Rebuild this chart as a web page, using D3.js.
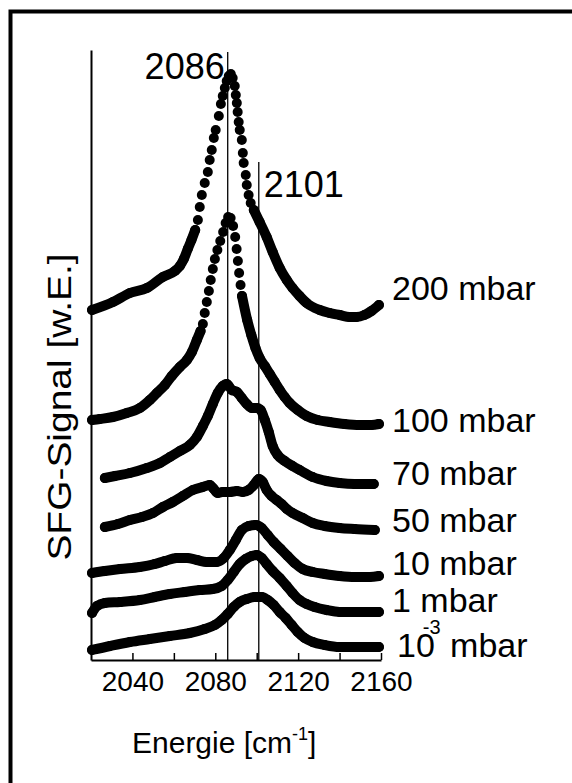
<!DOCTYPE html>
<html>
<head>
<meta charset="utf-8">
<script src="https://cdn.jsdelivr.net/npm/d3@7"></script>
<style>
  body { margin: 0; background: #fff; }
  svg text { font-family: "Liberation Sans", Arial, sans-serif; fill: #000; }
</style>
</head>
<body>
<svg width="572" height="783"></svg>
<script>
// SFG spectra, [wavenumber (cm^-1), signal (w.E.) incl. vertical offset]
// points closer than 1.7 cm^-1 are single measured dots, the rest is read along the dense trace
const p200 = [
  [2020.5,35.0],[2030.6,35.8],[2038.8,36.7],[2047,37.2],[2054.7,38.3],[2060.5,38.9],[2062.9,39.4],[2064.8,40.1],[2066.7,41.1],
  [2068.5,42.0],[2070.3,43.0],
  [2071.6,44.0],[2072.5,45.3],[2073.5,46.5],[2074.9,47.7],[2076.4,48.8],[2077.3,50.0],[2078.3,51.0],[2079.3,52.2],[2080.2,53.0],
  [2081.7,54.4],[2082.7,55.6],[2083.6,56.4],[2084.6,57.2],[2085.5,57.9],[2086.5,58.4],[2087.5,58.6],[2088.4,58.2],[2089.4,57.4],
  [2089.9,56.5],[2090.4,55.7],[2090.8,54.8],[2091.3,53.8],[2091.8,53.0],[2092.8,52.0],[2093.3,50.7],[2093.7,49.7],[2094.7,48.5],
  [2095.2,47.5],[2096.1,46.5],[2097.1,45.7],[2098.6,45.0],
  [2101.4,43.8],[2104.8,42.3],[2107.7,40.8],[2111.1,39.2],[2114.5,38.0],[2117.3,37.2],[2120.7,36.4],[2124.1,35.7],[2130.4,35.0],
  [2135.2,34.7],[2140,34.5],[2144.8,34.3],[2148.2,34.3],[2152,34.5],[2155.4,34.9],[2159,35.5]
];
const p100 = [
  [2020.5,24.0],[2024.3,24.1],[2030.6,24.3],[2037.3,24.7],[2043.6,25.2],[2048.4,26.0],[2051.8,26.7],[2055.7,27.5],[2059,28.4],
  [2062.9,29.3],[2066.3,30.0],[2068.7,30.8],[2071.1,32.0],
  [2072.9,32.9],[2074.0,33.6],[2074.9,34.7],[2075.9,35.8],[2076.9,36.9],[2077.8,38.0],[2078.8,39.1],[2079.8,40.1],[2081.0,41.0],
  [2082.4,41.9],[2083.8,42.8],[2085.0,43.7],[2086.2,44.3],[2087.4,44.2],[2088.6,43.4],[2089.6,42.3],[2090.3,41.1],[2090.9,39.9],
  [2091.5,38.7],[2092.2,37.5],[2092.9,36.4],
  [2095.4,34.0],[2097.4,32.5],[2099.4,31.2],[2101.4,30.2],[2103.9,29.4],[2106.3,28.6],[2108.7,27.8],[2111.1,27.0],[2113.5,26.3],
  [2115.9,25.7],[2119.8,25.0],[2124.1,24.4],[2129.4,24.0],[2135.2,23.8],[2142.4,23.6],[2149.6,23.5],[2155.4,23.5],[2159,23.6]
];
const p70 = [
  [2026.7,18.2],[2031.6,18.4],[2038.8,18.7],[2047,19.2],[2053.3,19.7],[2058.1,20.3],[2062.9,20.9],[2067.7,21.5],[2071.1,22.3],
  [2074,23.4],[2076.4,24.4],[2078.8,25.6],[2081.2,26.7],[2083.6,27.4],[2085.5,27.6],[2088,27.0],[2090.4,26.8],[2092.8,26.2],
  [2095.2,25.6],[2097.6,25.2],[2100,25.2],[2101.9,25.0],[2103.9,24.0],[2105.8,22.8],[2107.7,21.4],[2110.1,20.5],[2113.5,19.9],
  [2117.3,19.4],[2120.7,19.0],[2127,18.3],[2133.7,17.9],[2140,17.7],[2147.2,17.6],[2156.5,17.6]
];
const p50 = [
  [2026.7,13.3],[2033,13.6],[2038.8,14.0],[2044.6,14.3],[2049.9,14.7],[2054.7,15.3],[2059.5,15.8],[2064.3,16.4],[2069.2,17.0],
  [2074,17.3],[2077.3,17.5],[2079.3,17.1],[2081.2,16.7],[2083.6,16.8],[2087,16.8],[2090.4,16.9],[2093.3,16.8],[2096.1,17.0],
  [2098.6,17.5],[2101,18.1],[2102.9,17.8],[2104.8,17.0],[2107.2,16.4],[2109.6,16.0],[2112,15.6],[2114.5,15.1],[2117.3,14.7],
  [2122.2,14.2],[2127,13.7],[2132.8,13.4],[2140,13.2],[2147.2,13.1],[2157,13.0]
];
const p10 = [
  [2020.5,8.7],[2026.7,8.9],[2034,9.1],[2043.6,9.3],[2050.8,9.6],[2055.7,9.9],[2061.4,10.2],[2066.3,10.2],[2071.1,10.0],
  [2075.9,9.8],[2080.7,9.8],[2084.1,10.2],[2087,11.0],[2089.9,12.0],[2092.8,13.0],[2096.1,13.4],[2099.5,13.5],[2102.4,13.2],
  [2105.3,12.5],[2108.2,11.8],[2111.6,11.1],[2114.9,10.4],[2118.3,9.7],[2122.2,9.1],[2127,8.8],[2132.8,8.6],[2140,8.4],
  [2147.2,8.3],[2154.5,8.3],[2159,8.4]
];
const p1 = [
  [2020.5,4.7],[2022.9,5.4],[2026.7,5.7],[2034,5.8],[2043.6,6.0],[2050.8,6.3],[2058.1,6.6],[2065.3,6.8],[2072.5,7.0],
  [2078.8,7.1],[2083.1,7.4],[2086,8.0],[2088.9,8.8],[2091.8,9.6],[2094.7,10.1],[2097.6,10.4],[2100,10.5],[2102.4,10.2],
  [2104.8,9.6],[2107.7,8.9],[2111.1,8.2],[2114.5,7.4],[2117.3,6.7],[2120.7,6.0],[2124.1,5.6],[2127.9,5.3],[2133.7,5.0],
  [2140,4.8],[2149.6,4.8],[2159,4.8]
];
const p0001 = [
  [2020.5,1.0],[2029.2,1.4],[2038.8,1.8],[2048.4,2.1],[2058.1,2.4],[2067.7,2.7],[2074.9,3.1],[2079.8,3.5],[2083.1,4.0],
  [2086,4.6],[2088.9,5.3],[2091.8,5.8],[2095.2,6.1],[2099,6.3],[2102.4,6.3],[2105.3,6.0],[2108.2,5.5],[2111.1,4.8],
  [2114,4.2],[2116.9,3.5],[2119.8,2.8],[2123.1,2.2],[2127,1.8],[2132.8,1.5],[2140,1.3],[2149.6,1.3],[2159,1.3]
];
const seriesData = [p200, p100, p70, p50, p10, p1, p0001];
const pressures = ["200", "100", "70", "50", "10", "1", "10-3"];
const peakLines = [2086, 2101];
const xTicks = [2040, 2060, 2080, 2100, 2120, 2140, 2160];
const xTickLabels = [2040, 2080, 2120, 2160];

const svg = d3.select("svg");
const x = d3.scaleLinear().domain([2020, 2160]).range([91, 381]);
const y = d3.scaleLinear().domain([0, 61]).range([660, 50]);

// frame (cut off at right and bottom like the scan)
svg.append("rect").attr("x", 10.5).attr("y", 11.5).attr("width", 700).attr("height", 900)
  .attr("fill", "none").attr("stroke", "#000").attr("stroke-width", 4);

// peak position lines
const lineTop = [60.8, 49.8];
peakLines.forEach(function(p, i) {
  svg.append("line").attr("x1", x(p)).attr("x2", x(p)).attr("y1", y(0)).attr("y2", y(lineTop[i]))
    .attr("stroke", "#000").attr("stroke-width", 1.3);
});
svg.append("text").attr("x", x(2086) - 3).attr("y", 79).attr("text-anchor", "end")
  .style("font-size", "36px").text("2086");
svg.append("text").attr("x", x(2101) + 5).attr("y", 197)
  .style("font-size", "36px").text("2101");

// axes
const xAxis = svg.append("g").attr("transform", "translate(0," + y(0) + ")")
  .call(d3.axisBottom(x).tickValues(xTicks).tickSize(-7).tickSizeOuter(0).tickPadding(11)
    .tickFormat(function(d) { return xTickLabels.includes(d) ? d : ""; }));
xAxis.select(".domain").attr("stroke-width", 2);
xAxis.selectAll(".tick line").attr("stroke-width", 1.5);
xAxis.selectAll(".tick text").style("font-size", "28px").attr("font-family", null);

const yAxis = svg.append("g").attr("transform", "translate(" + x(2020) + ",0)")
  .call(d3.axisLeft(y).tickValues([]).tickSizeOuter(0));
yAxis.select(".domain").attr("stroke-width", 2);

// axis titles
const xt = svg.append("text").attr("x", 132).attr("y", 753).style("font-size", "30px");
xt.append("tspan").text("Energie [cm");
xt.append("tspan").attr("dy", -13).style("font-size", "18px").text("-1");
xt.append("tspan").attr("dy", 13).text("]");

svg.append("text").attr("transform", "translate(71,407) rotate(-90) scale(1.18,1)").attr("text-anchor", "middle")
  .style("font-size", "33px").text("SFG-Signal [w.E.]");

// spectra: thick trace through dense parts, separate dots where the signal jumps
function pieces(pts) {
  const out = [];
  let cur = [pts[0]];
  for (let i = 1; i < pts.length; i++) {
    if (pts[i][0] - pts[i - 1][0] >= 1.7) cur.push(pts[i]);
    else { out.push(cur); cur = [pts[i]]; }
  }
  out.push(cur);
  return out;
}
const trace = d3.line().curve(d3.curveMonotoneX)
  .x(function(d) { return x(d[0]); }).y(function(d) { return y(d[1]); });

seriesData.forEach(function(pts) {
  const g = svg.append("g");
  pieces(pts).filter(function(s) { return s.length > 1; }).forEach(function(s) {
    g.append("path").datum(s).attr("d", trace).attr("fill", "none").attr("stroke", "#000")
      .attr("stroke-width", 10).attr("stroke-linejoin", "round").attr("stroke-linecap", "round");
  });
  g.selectAll("circle").data(pts).enter().append("circle")
    .attr("cx", function(d) { return x(d[0]); }).attr("cy", function(d) { return y(d[1]); })
    .attr("r", 5).attr("fill", "#000");
});

// pressure labels
const labelY = [300, 432, 485, 532, 575, 612, 657];
pressures.forEach(function(p, i) {
  const t = svg.append("text").attr("x", 392).attr("y", labelY[i]).style("font-size", "34px");
  if (p === "10-3") {
    t.attr("x", 397);
    t.append("tspan").text("10");
    t.append("tspan").attr("dy", -23).attr("dx", -12).style("font-size", "20px").text("-3");
    t.append("tspan").attr("dy", 23).text(" mbar");
  } else {
    t.text(p + " mbar");
  }
});
</script>
</body>
</html>
